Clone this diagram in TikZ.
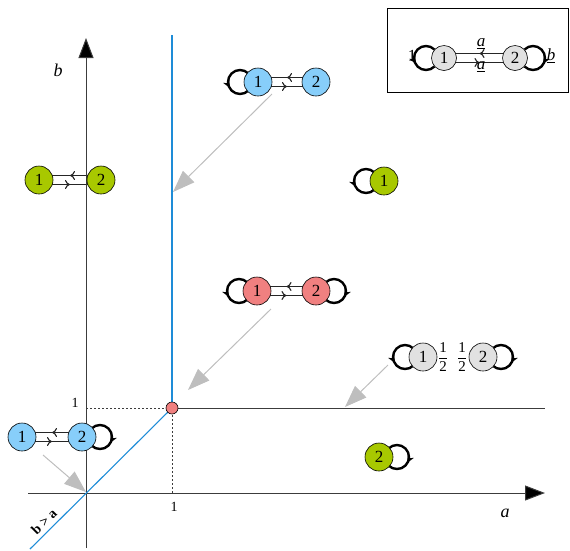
\documentclass[tikz,border=0pt]{standalone}
\usepackage{fontspec}
\setmainfont{Liberation Serif}
\usepackage{amsmath}
\usetikzlibrary{arrows.meta,decorations.markings,backgrounds}

\definecolor{skyfill}{RGB}{135,206,250}
\definecolor{limefill}{RGB}{168,200,0}
\definecolor{corfill}{RGB}{240,128,128}
\definecolor{greyfill}{RGB}{225,225,225}
\definecolor{regionline}{RGB}{30,140,215}
\definecolor{pointergrey}{RGB}{190,190,190}
\definecolor{axisgrey}{RGB}{60,60,60}

\tikzset{
  state/.style={circle, draw=black, line width=0.6pt, minimum size=28pt,
    inner sep=0pt, font=\fontsize{17}{17}\selectfont},
  sky/.style={state, fill=skyfill},
  lime/.style={state, fill=limefill},
  coral/.style={state, fill=corfill},
  grey/.style={state, fill=greyfill},
  keystate/.style={grey, minimum size=25pt},
  loopline/.style={line width=2.4pt, black,
    postaction={decorate, decoration={markings,
      mark=at position 0.6 with {\arrow{Stealth[length=7pt,width=7pt,line width=0pt]}}}}},
  pairline/.style={line width=0.8pt, black!85,
    postaction={decorate, decoration={markings,
      mark=at position 0.5 with {\arrow{Computer Modern Rightarrow[length=5pt,width=9pt,line width=1.1pt]}}}}},
  pointer/.style={draw=pointergrey, line width=1pt,
    -{Triangle[length=22pt,width=16pt,fill=pointergrey]}},
  axisline/.style={draw=axisgrey, line width=1pt},
  axisarrow/.style={axisline, -{Triangle[length=20pt,width=15pt,fill=black]}},
  region/.style={draw=regionline, line width=1.1pt},
  guide/.style={draw=axisgrey, line width=0.9pt, dash pattern=on 2pt off 2pt},
  lbl/.style={font=\fontsize{17}{17}\selectfont, inner sep=0pt},
  tick/.style={font=\fontsize{14}{14}\selectfont, inner sep=0pt},
  frac/.style={font=\fontsize{15}{15}\selectfont, inner sep=0pt},
}

% self loops: to the left or to the right of a state
\newcommand{\loopleft}[1]{\draw[loopline] ([xshift=-18pt]#1.center) ++(45:12pt) arc[start angle=45, end angle=315, radius=12pt];}
\newcommand{\loopright}[1]{\draw[loopline] ([xshift=18pt]#1.center) ++(135:12pt) arc[start angle=135, end angle=-135, radius=12pt];}
% a pair of opposite transitions between two states
\newcommand{\pairlines}[2]{%
  \draw[pairline] ([yshift=4.5pt]#2.center) -- ([yshift=4.5pt]#1.center);
  \draw[pairline] ([yshift=-4.5pt]#1.center) -- ([yshift=-4.5pt]#2.center);}

\begin{document}
\begin{tikzpicture}[x=1pt,y=1pt]
\useasboundingbox (0,0) rectangle (570,-550);

% axes and region boundaries
\coordinate (O) at (86,-493);
\coordinate (P) at (172,-408);
\coordinate (ybot) at (86,-548);
\coordinate (ytop) at (86,-38);
\coordinate (xleft) at (28,-493);
\coordinate (xright) at (545,-493);
\coordinate (vtop) at (172,-35);
\coordinate (hright) at (545,-408);
\coordinate (dlow) at (30,-549);
\coordinate (ytick) at (86,-408);
\coordinate (xtick) at (172,-493);

\draw[guide] (ytick) -- (P);
\draw[guide] (xtick) -- (P);
\draw[axisarrow] (ybot) -- (ytop);
\draw[axisarrow] (xleft) -- (xright);
\draw[axisline] (P) -- (hright);
\draw[region] (P) -- (vtop);
\draw[region] (dlow) -- (P);

\node[lbl, font=\itshape\fontsize{18}{18}\selectfont] (blab) at (58,-70) {b};
\node[lbl, font=\itshape\fontsize{18}{18}\selectfont] (alab) at (505,-513) {a};
\node[tick] (t1y) at (75,-403) {1};
\node[tick] (t1x) at (174,-507) {1};
\node[rotate=45, inner sep=0pt, font=\bfseries\fontsize{14}{14}\selectfont] (cond) at (44,-522) {b > a};

\node[circle, draw=black, line width=0.6pt, fill=corfill, minimum size=12pt, inner sep=0pt] (dot) at (P) {};

% legend
\node[draw=black, line width=0.8pt, minimum width=181pt, minimum height=84pt, inner sep=0pt] (key) at (477.5,-50) {};
\node[keystate] (k1) at (444,-58) {1};
\node[keystate] (k2) at (515,-58) {2};
\node[lbl] (k1lab) at (412,-56) {1};
\node[lbl] (k2lab) at (551,-56) {\underline{\textit{b}}};
\node[lbl] (kup) at (481,-44) {\underline{\textit{a}}};
\node[lbl] (kdown) at (481,-67) {\underline{\textit{a}}};

% states
\node[sky] (b1) at (258,-82) {1};
\node[sky] (b2) at (316,-82) {2};
\node[lime] (g1) at (39,-180) {1};
\node[lime] (g2) at (101,-180) {2};
\node[lime] (s1) at (384,-181) {1};
\node[coral] (r1) at (257,-291) {1};
\node[coral] (r2) at (316,-291) {2};
\node[grey] (h1) at (423,-357) {1};
\node[grey] (h2) at (483,-357) {2};
\node[frac] (f1) at (443,-357) {$\dfrac{\text{1}}{\text{2}}$};
\node[frac] (f2) at (462,-357) {$\dfrac{\text{1}}{\text{2}}$};
\node[sky] (c1) at (22,-437) {1};
\node[sky] (c2) at (82,-437) {2};
\node[lime] (s2) at (379,-457) {2};

\begin{pgfonlayer}{background}
  \loopleft{k1} \loopright{k2} \pairlines{k1}{k2}
  \loopleft{b1} \pairlines{b1}{b2}
  \pairlines{g1}{g2}
  \loopleft{s1}
  \loopleft{r1} \loopright{r2} \pairlines{r1}{r2}
  \loopleft{h1} \loopright{h2}
  \loopright{c2} \pairlines{c1}{c2}
  \loopright{s2}
\end{pgfonlayer}

% pointers from example graphs to regions
\coordinate (p1s) at (272,-94);
\coordinate (p1e) at (173,-192);
\coordinate (p2s) at (271,-309);
\coordinate (p2e) at (188,-390);
\coordinate (p3s) at (388,-365);
\coordinate (p3e) at (345,-407);
\coordinate (p4s) at (43,-455);
\coordinate (p4e) at (86,-492);
\draw[pointer] (p1s) -- (p1e);
\draw[pointer] (p2s) -- (p2e);
\draw[pointer] (p3s) -- (p3e);
\draw[pointer] (p4s) -- (p4e);
\end{tikzpicture}
\end{document}
